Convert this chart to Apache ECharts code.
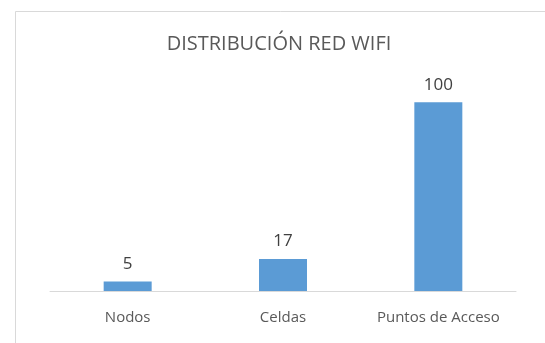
<!DOCTYPE html>
<html><head><meta charset="utf-8">
<script src="https://cdn.jsdelivr.net/npm/echarts@6/dist/echarts.min.js"></script>
<style>html,body{margin:0;padding:0;background:#fff}#c{width:545px;height:343px}</style>
</head><body><div id="c"></div>
<script>
const titleText = 'DISTRIBUCIÓN RED WIFI';
const categories = ['Nodos', 'Celdas', 'Puntos de Acceso'];
const values = [5, 17, 100];

const chart = echarts.init(document.getElementById('c'), null, {renderer: 'canvas'});
chart.setOption({
  backgroundColor: '#fff',
  animation: false,
  graphic: [{
    type: 'rect', left: 13, top: 9, silent: true,
    shape: {width: 560, height: 360},
    style: {fill: 'none', stroke: '#d9d9d9', lineWidth: 1}
  }],
  title: {
    text: titleText, left: 274, top: 29, textAlign: 'center',
    textStyle: {fontFamily: 'Open Sans', fontSize: 20, fontWeight: 'normal', color: '#595959'}
  },
  grid: {left: 50, right: 29, top: 64.6, bottom: 52},
  xAxis: {
    type: 'category', data: categories,
    axisLine: {lineStyle: {color: '#d9d9d9'}},
    axisTick: {show: false},
    axisLabel: {interval: 0, hideOverlap: false, fontFamily: 'Open Sans', fontSize: 15, color: '#595959', margin: 19}
  },
  yAxis: {
    type: 'value', min: 0, max: 120, interval: 20,
    show: false, splitLine: {show: false}
  },
  series: [{
    type: 'bar', data: values, barWidth: 48,
    itemStyle: {color: '#5b9bd5'},
    label: {show: true, position: 'top', distance: 9, fontFamily: 'Open Sans', fontSize: 17, color: '#404040'}
  }]
});
</script></body></html>
